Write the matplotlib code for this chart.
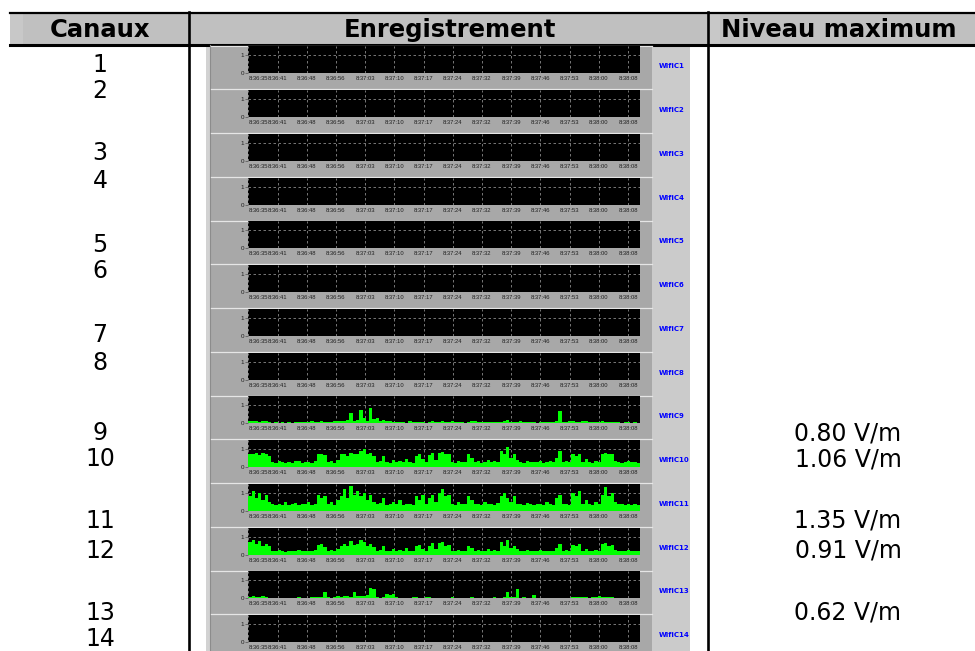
import numpy as np
import matplotlib.pyplot as plt
from matplotlib.patches import Rectangle

W, H = 975, 651

# table content
headers = ["Canaux", "Enregistrement", "Niveau maximum"]
channels = [str(i) for i in range(1, 15)]
wifi_labels = ["WifiC" + str(i) for i in range(1, 15)]
max_levels = [None] * 8 + [0.80, 1.06, 1.35, 0.91, 0.62, None]
time_labels = ["8:36:35", "8:36:41", "8:36:48", "8:36:56", "8:37:03", "8:37:10",
               "8:37:17", "8:37:24", "8:37:32", "8:37:39", "8:37:46", "8:37:53",
               "8:38:00", "8:38:08"]

wifi9 = [0.1, 0.12, 0.1, 0.08, 0.12, 0.1,
         0.05, 0.04, 0.06, 0.03, 0.05, 0.04, 0.05, 0.03, 0.06, 0.05, 0.08, 0.05,
         0.06, 0.12, 0.05, 0.08, 0.1, 0.07, 0.05,
         0.08, 0.1, 0.12, 0.15, 0.1, 0.2,
         0.55, 0.15, 0.2, 0.75, 0.3, 0.15, 0.85, 0.25, 0.3, 0.15, 0.2, 0.1, 0.12,
         0.05, 0.08, 0.05, 0.06, 0.04, 0.1, 0.05, 0.06, 0.08, 0.05, 0.04, 0.06, 0.1, 0.05, 0.08, 0.12, 0.06,
         0.05, 0.1, 0.08, 0.06, 0.05, 0.04, 0.08, 0.1, 0.12, 0.08, 0.05, 0.06, 0.05, 0.08, 0.06,
         0.06, 0.08, 0.1, 0.2, 0.08, 0.06, 0.05, 0.1, 0.05, 0.06, 0.08, 0.05, 0.04, 0.06, 0.05,
         0.08, 0.06, 0.05, 0.1, 0.7, 0.08, 0.05, 0.12, 0.1, 0.08, 0.06, 0.1, 0.12, 0.08, 0.06,
         0.05, 0.08, 0.1, 0.06, 0.05, 0.08, 0.06, 0.05, 0.04, 0.06, 0.05, 0.04, 0.05, 0.04]
wifi10 = [0.75, 0.7, 0.8, 0.65, 0.78, 0.7, 0.6,
          0.3, 0.25, 0.35, 0.28, 0.22, 0.3, 0.2, 0.32, 0.35, 0.25, 0.3, 0.28, 0.25, 0.35,
          0.7, 0.75, 0.65,
          0.3, 0.35, 0.25, 0.4,
          0.7, 0.75, 0.6, 0.8, 0.7, 0.75, 0.9, 1.0, 0.7, 0.8, 0.6,
          0.3, 0.35, 0.6, 0.3, 0.25, 0.4, 0.3, 0.35, 0.3, 0.45, 0.3, 0.25,
          0.6, 0.7, 0.45, 0.3, 0.65, 0.8, 0.4,
          0.8, 0.85, 0.7, 0.75,
          0.3, 0.25, 0.35, 0.3, 0.28,
          0.7, 0.5,
          0.3, 0.35, 0.25, 0.3, 0.4, 0.3, 0.35, 0.3,
          0.9, 0.7, 1.1, 0.5, 0.7, 0.4,
          0.3, 0.25, 0.35, 0.3, 0.28, 0.3, 0.35, 0.25, 0.3, 0.32, 0.3,
          0.5, 0.9,
          0.3, 0.35, 0.3,
          0.7, 0.6, 0.7,
          0.3, 0.45, 0.3, 0.25, 0.35, 0.3,
          0.75, 0.8, 0.7, 0.75,
          0.35, 0.3, 0.25, 0.3, 0.35, 0.28, 0.3, 0.25]
wifi11 = [0.8, 1.1, 0.7, 1.0, 0.6, 0.9, 0.5,
          0.35, 0.3, 0.4, 0.3, 0.5, 0.3, 0.35, 0.45, 0.3, 0.4, 0.35, 0.5, 0.3, 0.4,
          0.9, 0.7, 0.8,
          0.35, 0.5, 0.3, 0.6,
          0.8, 1.2, 0.7, 1.4, 0.9, 1.1, 0.8, 1.0, 0.6, 0.9, 0.5,
          0.35, 0.45, 0.7, 0.3, 0.4, 0.5, 0.35, 0.6, 0.3, 0.4, 0.35, 0.3,
          0.8, 0.6, 0.9, 0.4, 0.7, 0.9, 0.5,
          1.0, 1.2, 0.8, 0.9,
          0.4, 0.3, 0.5, 0.35, 0.4,
          0.8, 0.6,
          0.35, 0.4, 0.3, 0.5, 0.35, 0.4, 0.3, 0.45,
          0.8, 1.0, 0.7, 0.5, 0.8, 0.4,
          0.35, 0.3, 0.45, 0.35, 0.3, 0.4, 0.35, 0.3, 0.5, 0.35, 0.3,
          0.7, 0.9,
          0.35, 0.4, 0.3,
          1.0, 0.8, 1.1,
          0.4, 0.6, 0.35, 0.3, 0.5, 0.4,
          0.9, 1.3, 0.8, 1.0,
          0.5, 0.35, 0.4, 0.3, 0.35, 0.3, 0.4, 0.3]
wifi12 = [0.7, 0.8, 0.6, 0.75, 0.5, 0.6, 0.45,
          0.2, 0.18, 0.25, 0.2, 0.15, 0.22, 0.18, 0.2, 0.25, 0.18, 0.2, 0.22, 0.18, 0.25,
          0.55, 0.6, 0.4,
          0.2, 0.25, 0.2, 0.3,
          0.5, 0.6, 0.45, 0.75, 0.55, 0.6, 0.8, 0.7, 0.5, 0.6, 0.4,
          0.2, 0.25, 0.45, 0.2, 0.18, 0.3, 0.2, 0.25, 0.2, 0.35, 0.2, 0.18,
          0.45, 0.55, 0.3, 0.2, 0.5, 0.65, 0.3,
          0.65, 0.7, 0.5, 0.55,
          0.2, 0.18, 0.25, 0.2, 0.2,
          0.5, 0.35,
          0.2, 0.25, 0.18, 0.2, 0.3, 0.2, 0.25, 0.2,
          0.7, 0.5, 0.8, 0.35, 0.5, 0.3,
          0.2, 0.18, 0.25, 0.2, 0.2, 0.22, 0.25, 0.18, 0.2, 0.22, 0.2,
          0.35, 0.6,
          0.2, 0.25, 0.2,
          0.55, 0.45, 0.6,
          0.2, 0.3, 0.2, 0.18, 0.25, 0.2,
          0.6, 0.65, 0.5, 0.55,
          0.25, 0.2, 0.18, 0.2, 0.25, 0.2, 0.22, 0.18]
wifi13 = [0.1, 0.12, 0.08, 0.1, 0.12, 0.08,
          0.02, 0.01, 0.02, 0.0, 0.01, 0.02, 0.0, 0.01, 0.02, 0.05, 0.02, 0.01, 0.02, 0.05, 0.08, 0.05,
          0.1, 0.35,
          0.05, 0.02, 0.1, 0.12, 0.1, 0.15, 0.12, 0.1, 0.35, 0.15, 0.12, 0.15, 0.2,
          0.6, 0.5,
          0.05, 0.02, 0.08, 0.25, 0.2, 0.25,
          0.05, 0.03, 0.02, 0.04, 0.02, 0.05, 0.08, 0.04, 0.02, 0.05, 0.06, 0.03, 0.02, 0.04, 0.02,
          0.01, 0.03, 0.08, 0.02, 0.01, 0.02, 0.03, 0.02, 0.05, 0.02, 0.01, 0.02, 0.03, 0.02, 0.01,
          0.08, 0.02, 0.03, 0.05,
          0.35, 0.05, 0.1, 0.5, 0.02, 0.05, 0.01, 0.02, 0.2,
          0.02, 0.01, 0.02, 0.0, 0.01, 0.02, 0.01, 0.0, 0.01, 0.02, 0.01,
          0.1, 0.08, 0.05, 0.1, 0.05, 0.02, 0.08, 0.1, 0.12, 0.1, 0.08, 0.1, 0.05, 0.02,
          0.02, 0.01, 0.02, 0.0, 0.01, 0.02, 0.01]
signals = [None] * 8 + [wifi9, wifi10, wifi11, wifi12, wifi13, None]

# layout (pixels)
row_y = [63, 90, 152, 179, 243, 269, 333, 361, 432, 458, 519, 549, 611, 638]
panel_top0, panel_h = 45.3, 43.75
plot_x0, plot_x1, tick_last = 248.3, 640, 628

duration = 93.0  # seconds from first to last tick label
xmax = duration * (plot_x1 - plot_x0) / (tick_last - plot_x0)
tick_pos = np.arange(len(time_labels)) * duration / (len(time_labels) - 1)


def frac(x0, y0, x1, y1):
    return [x0 / W, 1 - y1 / H, (x1 - x0) / W, (y1 - y0) / H]


fig = plt.figure(figsize=(W / 100, H / 100), dpi=100)
page = fig.add_axes([0, 0, 1, 1])
page.set_xlim(0, W)
page.set_ylim(H, 0)
page.axis("off")

# header band
page.add_patch(Rectangle((10, 13), W - 10, 31, fc="#c0c0c0", ec="none"))
page.add_patch(Rectangle((10, 13), 13, 31, fc="#c8c8c8", ec="none"))
page.add_patch(Rectangle((708, 13), 12, 31, fc="#c8c8c8", ec="none"))
page.plot([10, W], [13, 13], color="black", lw=1.6)
page.plot([10, W], [44.5, 44.5], color="black", lw=2.2)
for xv in (188.5, 707.5):
    page.plot([xv, xv], [12, H], color="black", lw=1.9)

hdr_x = [100, 450, 839]
for x, txt in zip(hdr_x, headers):
    page.text(x, 37.3, txt, ha="center", va="baseline", fontsize=17.5,
              fontweight="bold", family="DejaVu Sans", color="black")

for y, ch in zip(row_y, channels):
    page.text(100, y + 8.5, ch, ha="center", va="baseline", fontsize=17,
              family="DejaVu Sans", color="black")
for y, lv in zip(row_y, max_levels):
    if lv is not None:
        page.text(848, y + 8.5, f"{lv:.2f} V/m", ha="center", va="baseline",
                  fontsize=17, family="DejaVu Sans", color="black")

# screenshot frame
page.add_patch(Rectangle((206, 45), 4, H - 45, fc="#d2d2d2", ec="none"))
page.plot([210.3, 210.3], [45, H], color="#8c8c8c", lw=0.8)
page.add_patch(Rectangle((652, 45), 38, H - 45, fc="#cbcbcb", ec="none"))

for k in range(14):
    top = panel_top0 + k * panel_h
    page.add_patch(Rectangle((211, top), 441, panel_h, fc="#a8a8a8", ec="none"))
    page.plot([211, 652], [top + 0.4, top + 0.4], color="#e6e6e6", lw=0.9)
    page.text(659, top + 21, wifi_labels[k], ha="left", va="center",
              fontsize=5, fontweight="bold", color="#0000ff", family="DejaVu Sans")

    ax = fig.add_axes(frac(plot_x0, top + 1, plot_x1, top + 28))
    ax.set_facecolor("black")
    ax.set_xlim(0, xmax)
    ax.set_ylim(0, 1.5)
    for s in ax.spines.values():
        s.set_visible(False)
    ax.set_xticks(tick_pos)
    ax.set_xticklabels(time_labels, family="Liberation Sans", fontsize=4.2, color="#202020")
    ax.get_xticklabels()[0].set_ha("left")
    ax.set_yticks([0, 1])
    ax.set_yticklabels(["0", "1"], family="Liberation Sans", fontsize=4.5, color="#202020")
    ax.tick_params(axis="x", length=0, pad=2.2)
    ax.tick_params(axis="y", length=2, width=0.5, pad=1, color="#505050")
    ax.grid(True, color="#8a8a8a", lw=0.6, linestyle=(0, (3, 3)))
    ax.set_axisbelow(True)

    sig = signals[k]
    if sig is not None:
        n = len(sig)
        x = np.arange(n) * xmax / n
        ax.bar(x, sig, width=xmax / n, align="edge", color="#00ff00", lw=0, zorder=2)

fig.savefig("out.png", dpi=100)
